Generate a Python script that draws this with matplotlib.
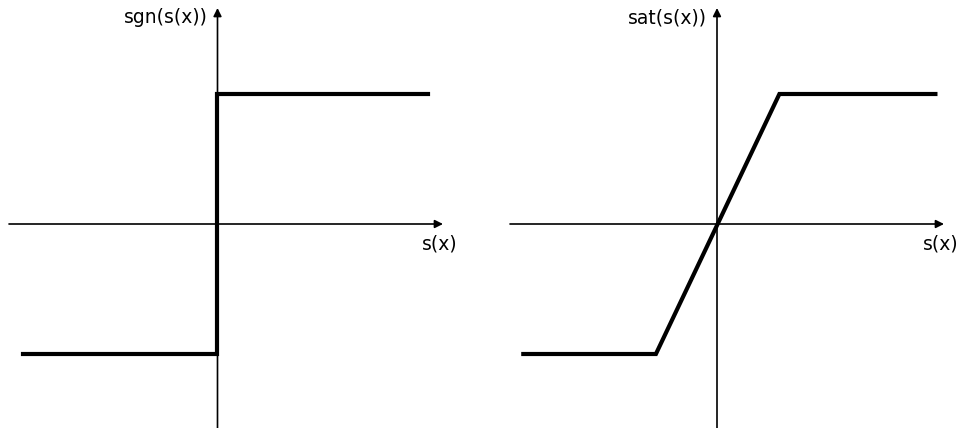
import matplotlib.pyplot as plt

# sign function: step from -1 to +1 at s = 0
s_sgn = [-1.5, 0.0, 0.0, 1.62]
sgn_vals = [-1, -1, 1, 1]

# saturation function: linear between the corner points, flat outside
s_sat = [-1.49, -0.47, 0.48, 1.68]
sat_vals = [-1, -1, 1, 1]

px = 130.0  # pixels per unit
W, H = 962, 428

fig = plt.figure(figsize=(W / 100, H / 100), dpi=100)


def panel(left_px, origin_x, origin_y, x_start, x_tip, xs, ys, ylabel):
    ax = fig.add_axes([left_px / W, 0, 481 / W, 1])
    ax.set_xlim((left_px - origin_x) / px, (left_px + 481 - origin_x) / px)
    ax.set_ylim(-(H - origin_y) / px, origin_y / px)
    ax.axis("off")

    # axes with arrow heads
    ax.annotate("", xy=((x_tip - origin_x) / px, 0), xytext=((x_start - origin_x) / px, 0),
                arrowprops=dict(arrowstyle="-|>", lw=1.2, color="black",
                                mutation_scale=12, shrinkA=0, shrinkB=0))
    ax.annotate("", xy=(0, (origin_y - 8) / px), xytext=(0, -(H - origin_y) / px),
                arrowprops=dict(arrowstyle="-|>", lw=1.2, color="black",
                                mutation_scale=12, shrinkA=0, shrinkB=0))

    ax.plot(xs, ys, color="black", lw=3, solid_joinstyle="miter", clip_on=False)

    ax.text((x_tip + 15 - origin_x) / px, -20 / px, "s(x)", ha="right", va="center",
            fontsize=13.5, family="DejaVu Sans")
    ax.text(-10 / px, (origin_y - 18) / px, ylabel, ha="right", va="center",
            fontsize=13.5, family="DejaVu Sans")
    return ax


panel(0, 217.5, 224, 9, 443, s_sgn, sgn_vals, "sgn(s(x))")
panel(481, 717, 224, 510, 944, s_sat, sat_vals, "sat(s(x))")

fig.savefig("out.png", dpi=100)
